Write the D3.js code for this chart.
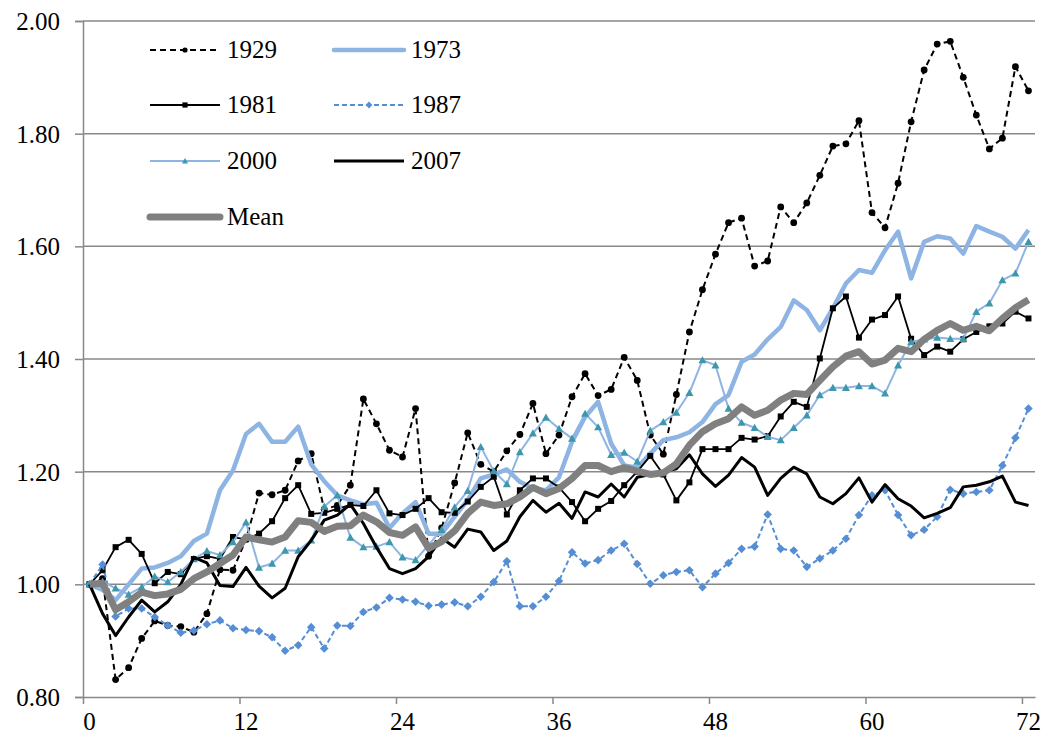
<!DOCTYPE html>
<html>
<head>
<meta charset="utf-8">
<script src="https://cdn.jsdelivr.net/npm/d3@7"></script>
<style>
  html, body { margin: 0; padding: 0; background: #ffffff; }
  svg text { font-family: "Liberation Serif", "Times New Roman", serif; fill: #000; }
</style>
</head>
<body>
<svg id="chart" width="1043" height="742"></svg>
<script>
// Months since the start of each bull market (0..72)
const months = d3.range(0, 73);

const s1929 = [1.00,1.01,0.831,0.852,0.904,0.935,0.927,0.925,0.915,0.948,1.026,1.025,1.08,1.162,1.159,1.167,1.219,1.232,1.133,1.14,1.176,1.329,1.285,1.238,1.226,1.312,1.05,1.10,1.18,1.269,1.213,1.20,1.237,1.266,1.321,1.232,1.265,1.333,1.374,1.335,1.346,1.403,1.362,1.265,1.231,1.337,1.448,1.523,1.586,1.642,1.650,1.565,1.574,1.670,1.642,1.677,1.726,1.778,1.782,1.823,1.660,1.633,1.712,1.821,1.913,1.959,1.964,1.900,1.833,1.773,1.792,1.919,1.876];

const s1973 = [1.00,0.99,0.972,1.00,1.028,1.03,1.038,1.05,1.077,1.09,1.167,1.202,1.267,1.285,1.253,1.253,1.28,1.213,1.183,1.158,1.149,1.142,1.145,1.10,1.126,1.146,1.09,1.09,1.12,1.15,1.188,1.195,1.204,1.182,1.17,1.167,1.19,1.253,1.297,1.324,1.25,1.211,1.207,1.232,1.256,1.261,1.27,1.288,1.32,1.336,1.395,1.408,1.435,1.457,1.504,1.487,1.451,1.49,1.534,1.558,1.553,1.593,1.626,1.543,1.608,1.618,1.614,1.587,1.636,1.626,1.617,1.596,1.629];

const s1981 = [1.00,1.025,1.066,1.079,1.054,1.002,1.022,1.018,1.045,1.05,1.045,1.084,1.08,1.09,1.112,1.153,1.176,1.125,1.127,1.134,1.141,1.139,1.167,1.126,1.123,1.134,1.153,1.128,1.127,1.147,1.173,1.191,1.124,1.167,1.188,1.188,1.172,1.146,1.112,1.134,1.148,1.176,1.20,1.228,1.195,1.149,1.181,1.24,1.24,1.24,1.26,1.257,1.263,1.298,1.324,1.315,1.401,1.49,1.511,1.438,1.47,1.478,1.511,1.436,1.407,1.422,1.413,1.435,1.448,1.458,1.463,1.484,1.472];

const s1987 = [1.00,1.035,0.943,0.957,0.957,0.942,0.927,0.914,0.918,0.929,0.936,0.922,0.919,0.917,0.906,0.882,0.892,0.924,0.886,0.927,0.926,0.951,0.959,0.976,0.973,0.969,0.962,0.964,0.968,0.961,0.978,1.004,1.041,0.961,0.961,0.978,1.006,1.057,1.037,1.043,1.06,1.072,1.036,1.001,1.016,1.022,1.025,0.995,1.019,1.038,1.063,1.067,1.124,1.063,1.06,1.031,1.046,1.06,1.081,1.123,1.158,1.167,1.123,1.087,1.097,1.12,1.168,1.161,1.164,1.167,1.211,1.26,1.312];

const s2000 = [1.00,1.005,0.993,0.982,0.995,1.014,1.004,1.022,1.045,1.059,1.052,1.075,1.11,1.03,1.037,1.06,1.06,1.078,1.138,1.158,1.083,1.066,1.067,1.075,1.048,1.043,1.07,1.097,1.137,1.166,1.244,1.201,1.178,1.235,1.268,1.296,1.276,1.259,1.303,1.279,1.23,1.234,1.218,1.273,1.288,1.305,1.34,1.398,1.389,1.312,1.287,1.278,1.262,1.256,1.278,1.30,1.336,1.349,1.349,1.352,1.352,1.339,1.389,1.43,1.435,1.438,1.436,1.436,1.484,1.499,1.54,1.552,1.608];

const s2007 = [1.00,0.948,0.909,0.942,0.972,0.951,0.969,1.00,1.048,1.038,0.998,0.996,1.03,0.997,0.976,0.993,1.049,1.078,1.114,1.123,1.142,1.108,1.066,1.028,1.019,1.028,1.049,1.082,1.066,1.098,1.093,1.06,1.077,1.12,1.149,1.128,1.144,1.117,1.164,1.155,1.178,1.155,1.19,1.195,1.20,1.205,1.23,1.196,1.174,1.194,1.225,1.208,1.158,1.188,1.208,1.196,1.155,1.143,1.161,1.189,1.146,1.177,1.152,1.139,1.118,1.126,1.136,1.173,1.176,1.182,1.192,1.146,1.14];

const sMean = [1.00,1.002,0.955,0.969,0.986,0.98,0.983,0.991,1.01,1.022,1.037,1.052,1.084,1.079,1.075,1.084,1.113,1.11,1.094,1.103,1.104,1.123,1.111,1.092,1.087,1.102,1.064,1.076,1.095,1.126,1.146,1.14,1.143,1.155,1.172,1.161,1.17,1.188,1.211,1.211,1.20,1.207,1.201,1.195,1.198,1.214,1.247,1.271,1.285,1.294,1.315,1.30,1.309,1.327,1.339,1.337,1.362,1.386,1.405,1.413,1.391,1.398,1.419,1.413,1.435,1.451,1.463,1.451,1.458,1.45,1.472,1.491,1.505];

const yTicks = [0.8, 1.0, 1.2, 1.4, 1.6, 1.8, 2.0];
const xTicks = [0, 12, 24, 36, 48, 60, 72];

// Series styling, in drawing order (Mean drawn last, on top)
const series = [
  { name: "1929", values: s1929, color: "#000000", width: 2, dash: "6,4", marker: "circle", markerColor: "#000000" },
  { name: "1973", values: s1973, color: "#8db4e2", width: 4.5, dash: null, marker: null },
  { name: "1981", values: s1981, color: "#000000", width: 1.8, dash: null, marker: "square", markerColor: "#000000" },
  { name: "1987", values: s1987, color: "#558ed5", width: 2, dash: "5,3", marker: "diamond", markerColor: "#558ed5" },
  { name: "2000", values: s2000, color: "#8db4e2", width: 2, dash: null, marker: "triangle", markerColor: "#3d97ad" },
  { name: "2007", values: s2007, color: "#000000", width: 3, dash: null, marker: null },
  { name: "Mean", values: sMean, color: "#808080", width: 7, dash: null, marker: null }
];

const FONT = "'Liberation Serif', 'Times New Roman', serif";
const FONT_SIZE = "25px";

const svg = d3.select("#chart").attr("font-family", FONT);
const plotLeft = 83, plotRight = 1035, plotTop = 21, plotBottom = 697;

// Category centres: month m sits in the middle of its slot
const x = d3.scaleLinear().domain([-0.5, 72.5]).range([plotLeft, plotRight]);
const y = d3.scaleLinear().domain([0.8, 2.0]).range([plotBottom, plotTop]);

const gridColor = "#888888";

// Horizontal gridlines
svg.append("g")
  .selectAll("line")
  .data(yTicks.filter(d => d > 0.8))
  .join("line")
  .attr("x1", plotLeft).attr("x2", plotRight)
  .attr("y1", d => y(d)).attr("y2", d => y(d))
  .attr("stroke", gridColor).attr("stroke-width", 1.5);

// Y axis
const yAxis = svg.append("g")
  .attr("transform", `translate(${plotLeft},0)`)
  .call(d3.axisLeft(y).tickValues(yTicks).tickFormat(d3.format(".2f")).tickSize(8).tickPadding(15));
yAxis.attr("font-family", FONT);
yAxis.select(".domain").attr("stroke", gridColor).attr("stroke-width", 1.5);
yAxis.selectAll(".tick line").attr("stroke", gridColor).attr("stroke-width", 1.5);
yAxis.selectAll(".tick text")
  .style("font-family", FONT)
  .style("font-size", FONT_SIZE).attr("fill", "#000").attr("dy", "0.34em");

// X axis: tick marks on slot boundaries, labels on category centres
const xAxis = svg.append("g")
  .attr("transform", `translate(0,${plotBottom})`)
  .call(d3.axisBottom(x).tickValues(xTicks.map(d => d - 0.5)).tickFormat("").tickSize(7).tickSizeOuter(0));
xAxis.select(".domain").attr("stroke", gridColor).attr("stroke-width", 1.5);
xAxis.selectAll(".tick line").attr("stroke", gridColor).attr("stroke-width", 1.5);

svg.append("g")
  .selectAll("text")
  .data(xTicks)
  .join("text")
  .attr("x", d => x(d))
  .attr("y", 730)
  .attr("text-anchor", "middle")
  .style("font-family", FONT)
  .style("font-size", FONT_SIZE)
  .text(d => d);

// Marker shapes
function markerPath(type, s) {
  if (type === "square") return `M${-s},${-s}H${s}V${s}H${-s}Z`;
  if (type === "diamond") return `M0,${-s * 1.3}L${s * 1.3},0L0,${s * 1.3}L${-s * 1.3},0Z`;
  if (type === "triangle") return `M0,${-s * 1.25}L${s * 1.25},${s}L${-s * 1.25},${s}Z`;
  return null;
}

function drawMarkers(g, type, color, pts, s) {
  if (type === "circle") {
    g.selectAll("circle").data(pts).join("circle")
      .attr("cx", d => d[0]).attr("cy", d => d[1]).attr("r", s).attr("fill", color);
  } else {
    g.selectAll("path").data(pts).join("path")
      .attr("transform", d => `translate(${d[0]},${d[1]})`)
      .attr("d", markerPath(type, s)).attr("fill", color);
  }
}

const line = d3.line().x((d, i) => x(months[i])).y(d => y(d));

series.forEach(sr => {
  const g = svg.append("g").attr("class", "series");
  g.append("path")
    .datum(sr.values)
    .attr("d", line)
    .attr("fill", "none")
    .attr("stroke", sr.color)
    .attr("stroke-width", sr.width)
    .attr("stroke-linejoin", "round")
    .attr("stroke-dasharray", sr.dash);
  if (sr.marker) {
    const pts = sr.values.map((v, i) => [x(months[i]), y(v)]);
    const size = { circle: 3.4, square: 3, diamond: 3.3, triangle: 3.2 }[sr.marker];
    drawMarkers(g.append("g"), sr.marker, sr.markerColor, pts, size);
  }
});

// Legend: two columns, Mean alone on the last row
const legendPos = {
  "1929": [150, 50], "1973": [334, 50],
  "1981": [150, 105], "1987": [334, 105],
  "2000": [150, 161], "2007": [334, 161],
  "Mean": [150, 217]
};
const legend = svg.append("g");
series.forEach(sr => {
  const [lx, ly] = legendPos[sr.name];
  const g = legend.append("g");
  g.append("line")
    .attr("x1", lx).attr("x2", lx + 70)
    .attr("y1", ly).attr("y2", ly)
    .attr("stroke", sr.color)
    .attr("stroke-width", sr.width)
    .attr("stroke-linecap", sr.name === "1973" || sr.name === "Mean" ? "round" : "butt")
    .attr("stroke-dasharray", sr.dash);
  if (sr.marker) {
    const size = { circle: 2.6, square: 2.6, diamond: 2.6, triangle: 2.4 }[sr.marker];
    drawMarkers(g.append("g"), sr.marker, sr.markerColor, [[lx + 35, ly]], size);
  }
  g.append("text")
    .attr("x", lx + 77)
    .attr("y", ly + 8)
    .style("font-family", FONT)
    .style("font-size", FONT_SIZE)
    .text(sr.name);
});
</script>
</body>
</html>
